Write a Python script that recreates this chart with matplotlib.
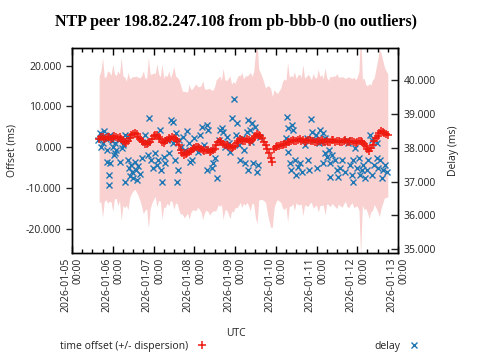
import numpy as np
import matplotlib
matplotlib.use('Agg')
import matplotlib.pyplot as plt
import matplotlib.dates as mdates
from matplotlib.ticker import FuncFormatter

plt.rcParams['font.family'] = ['Open Sans', 'DejaVu Sans']

TITLE = "NTP peer 198.82.247.108 from pb-bbb-0 (no outliers)"
START = np.datetime64('2026-01-05T00:00')
X_MIN = np.datetime64('2026-01-05T00:00')
X_MAX = np.datetime64('2026-01-13T00:00')

# time offset samples: hourly from 2026-01-05 16:00
offset_start_hour = 16
offset_step_hours = 1
offset_ms = [
    2.0, 2.6, 2.4, 1.9, 2.2, 2.5, 2.6, 2.1, 2.3, 2.7,
    2.5, 2.2, 2.4, 2.0, 1.6, 1.2, 1.0, 1.5, 2.2, 2.9,
    3.3, 3.5, 3.2, 2.6, 2.0, 1.5, 1.2, 0.8, 0.9, 1.1,
    1.4, 2.1, 2.7, 3.0, 2.9, 2.5, 2.0, 1.4, 1.1, 1.5,
    1.8, 2.2, 2.0, 2.4, 2.3, 1.9, 1.6, 0.5, -0.6, -1.3,
    -1.8, -1.6, -1.3, -1.1, -0.9, -0.5, -0.2, 0.0, 0.1, -0.2,
    -0.4, -0.7, -0.9, -0.6, -0.7, -1.1, -1.0, -0.8, -0.4, 0.6,
    1.4, 1.5, 1.2, 0.8, 0.6, 0.5, 0.3, 0.0, -0.1, 0.1,
    0.4, 1.0, 1.6, 2.0, 1.8, 1.5, 1.6, 2.0, 1.7, 1.4,
    1.8, 2.3, 2.8, 3.3, 3.1, 2.7, 2.2, 1.4, 0.5, -0.5,
    -1.5, -2.6, -3.6, -0.4, 0.0, 0.2, 0.3, 0.5, 0.6, 0.7,
    0.9, 1.2, 1.3, 1.6, 1.7, 1.5, 1.6, 1.8, 1.9, 1.6,
    1.7, 1.4, 1.5, 1.7, 1.8, 1.5, 1.6, 1.3, 1.4, 1.6,
    1.5, 1.8, 1.3, 1.4, 1.6, 1.2, 1.4, 1.7, 1.7, 1.4,
    1.5, 1.6, 1.4, 1.3, 1.6, 1.8, 1.3, 1.2, 1.5, 1.6,
    1.2, 1.0, 1.4, 1.6, 1.5, 1.3, 0.8, 0.2, -0.5, -0.9,
    -0.3, 0.5, 1.5, 2.2, 2.8, 3.5, 4.0, 3.8, 3.6, 3.2,
    2.9,
]
dispersion_ms = [
    15.5, 16.0, 19.5, 15.2, 15.0, 16.2, 15.8, 15.5, 18.0, 15.3,
    15.0, 16.5, 15.5, 20.0, 15.8, 16.0, 15.2, 16.8, 14.5, 14.2,
    14.0, 13.8, 14.2, 14.5, 15.0, 16.0, 17.5, 16.2, 16.0, 21.0,
    16.5, 15.8, 15.5, 15.0, 17.5, 15.5, 15.2, 19.0, 15.8, 16.2,
    15.5, 16.5, 15.0, 15.8, 17.5, 15.5, 15.5, 16.0, 15.8, 15.0,
    15.5, 15.2, 14.8, 16.5, 15.0, 14.8, 15.2, 15.5, 14.8, 15.0,
    15.5, 17.0, 15.2, 14.8, 15.0, 15.5, 15.0, 14.8, 15.2, 16.0,
    15.5, 16.0, 15.2, 18.5, 16.0, 15.8, 16.5, 17.5, 15.5, 16.0,
    15.2, 15.8, 16.0, 15.5, 16.5, 15.2, 15.8, 15.5, 16.0, 17.0,
    15.5, 16.2, 20.0, 22.0, 16.0, 15.5, 15.0, 14.5, 14.0, 15.5,
    16.5, 17.0, 16.0, 14.5, 13.5, 13.0, 13.5, 14.0, 15.5, 16.0,
    15.5, 19.5, 15.8, 16.0, 15.5, 17.0, 15.2, 15.8, 16.0, 15.5,
    18.5, 15.5, 15.8, 16.2, 15.5, 15.0, 16.5, 15.8, 15.5, 17.5,
    15.8, 16.0, 15.5, 18.0, 15.5, 15.2, 16.0, 15.5, 15.8, 16.0,
    16.5, 15.5, 15.8, 16.0, 15.5, 15.0, 15.8, 16.0, 15.5, 15.2,
    16.0, 15.5, 15.8, 17.0, 28.0, 15.5, 16.0, 15.2, 15.5, 16.5,
    15.5, 16.0, 15.5, 17.0, 18.5, 20.5, 19.0, 17.5, 16.0, 15.5,
    15.0,
]

# delay samples: hours since 2026-01-05 00:00 and delay in ms
delay_hours = [
    15.6, 16.2, 16.8, 17.4, 18.0, 18.6, 19.8, 20.3, 20.9, 20.9,
    21.5, 21.5, 22.1, 22.1, 23.3, 23.9, 24.5, 25.1, 25.1, 26.2,
    27.4, 28.0, 29.2, 29.8, 31.0, 31.0, 32.1, 32.7, 33.3, 33.9,
    34.5, 35.1, 35.7, 36.9, 37.4, 38.0, 38.6, 39.8, 41.0, 42.8,
    43.9, 44.5, 45.1, 46.3, 47.5, 48.7, 49.8, 50.4, 51.6, 52.2,
    52.8, 54.0, 54.5, 55.7, 56.9, 58.6, 59.2, 59.2, 60.4, 61.0,
    61.6, 62.2, 62.8, 64.0, 65.2, 66.3, 67.5, 68.7, 69.3, 70.5,
    71.6, 72.8, 74.0, 75.2, 76.4, 77.5, 79.3, 79.3, 79.9, 81.1,
    82.3, 82.8, 84.0, 85.2, 86.4, 87.0, 88.2, 88.7, 89.9, 91.1,
    92.3, 92.9, 94.1, 95.2, 96.4, 97.0, 98.2, 98.8, 100.0, 101.1,
    101.7, 102.9, 103.5, 103.5, 104.7, 105.3, 105.8, 106.4, 107.6, 108.8,
    109.4, 110.6, 125.9, 126.5, 127.1, 127.1, 128.3, 128.8, 129.4, 130.0,
    131.2, 131.8, 133.0, 134.2, 135.3, 137.1, 138.3, 138.9, 139.5, 140.6,
    141.2, 142.4, 143.6, 144.2, 145.4, 145.9, 147.1, 147.7, 147.7, 148.9,
    148.9, 150.1, 151.3, 151.8, 151.8, 153.0, 154.8, 156.0, 156.6, 157.7,
    158.9, 160.7, 161.9, 162.5, 163.7, 164.8, 165.4, 165.4, 166.6, 167.8,
    169.0, 169.5, 170.7, 171.3, 172.5, 173.7, 174.3, 175.4, 176.6, 176.6,
    177.8, 179.6, 179.6, 180.2, 181.3, 182.5, 183.1, 184.3, 185.5,
]
delay_ms = [
    38.23, 38.43, 38.02, 38.32, 38.14, 38.49, 38.26, 38.32, 37.93, 37.58,
    37.19, 36.90, 38.38, 37.55, 38.20, 38.02, 37.79, 38.14, 37.84, 37.93,
    38.23, 37.58, 37.99, 38.08, 38.38, 36.99, 38.32, 37.64, 37.40, 37.16,
    37.49, 37.28, 37.11, 37.58, 37.34, 37.05, 37.46, 37.22, 37.70, 38.38,
    38.17, 37.79, 38.88, 37.64, 37.40, 37.84, 37.49, 37.64, 38.52, 37.34,
    36.99, 37.73, 37.55, 38.23, 37.84, 38.82, 38.14, 38.76, 37.64, 38.43,
    36.99, 37.34, 38.23, 38.02, 38.32, 37.93, 38.49, 38.14, 37.58, 37.64,
    38.29, 38.02, 37.88, 38.38, 38.61, 38.08, 38.67, 37.34, 38.52, 37.93,
    37.40, 37.55, 37.70, 37.11, 38.23, 38.52, 38.58, 38.46, 38.02, 38.32,
    38.14, 37.88, 38.88, 39.44, 38.38, 38.73, 38.08, 37.64, 38.29, 37.93,
    37.55, 38.46, 38.82, 37.34, 38.52, 38.17, 38.73, 37.55, 38.61, 37.28,
    37.49, 38.32, 38.29, 38.91, 38.58, 37.88, 37.55, 37.34, 38.67, 38.52,
    37.64, 37.19, 37.43, 37.55, 37.28, 38.08, 38.29, 37.64, 37.34, 38.85,
    38.46, 38.23, 38.38, 37.40, 38.14, 38.52, 38.17, 38.43, 37.55, 38.29,
    37.84, 37.73, 37.93, 37.55, 37.14, 37.79, 37.64, 37.34, 37.14, 37.40,
    37.64, 37.28, 38.23, 38.14, 37.49, 37.19, 37.64, 36.99, 37.99, 37.40,
    37.70, 37.19, 37.34, 37.49, 37.11, 37.34, 37.64, 38.38, 38.23, 37.19,
    37.49, 37.70, 38.14, 37.40, 37.64, 37.11, 37.34, 37.49, 37.28,
]

OFFSET_LIM = (-25.9, 24.3)
DELAY_LIM = (34.89, 40.94)
offset_ticks = [-20, -10, 0, 10, 20]
delay_ticks = [35, 36, 37, 38, 39, 40]

RED = '#ee1a10'
BLUE = '#1f78b4'
BAND = '#f8d1d0'
TXT = '#222222'

offset_times = START + (offset_start_hour + offset_step_hours * np.arange(len(offset_ms))).astype('timedelta64[h]')
delay_times = START + np.round(np.array(delay_hours) * 60).astype(int).astype('timedelta64[m]')
off = np.array(offset_ms)
disp = np.array(dispersion_ms)

fig = plt.figure(figsize=(4.8, 3.6), dpi=100)
ax = fig.add_axes([72/480, 1-253/360, (398-72)/480, (253-48)/360])
ax.fill_between(offset_times, off - disp, off + disp, color=BAND, linewidth=0)
ax.set_ylim(*OFFSET_LIM)
ax.set_xlim(X_MIN, X_MAX)

ax2 = ax.twinx()
h_delay, = ax2.plot(delay_times, delay_ms, linestyle='none', marker='x', color=BLUE,
                    markersize=5, markeredgewidth=1.0)
ax2.set_ylim(*DELAY_LIM)

ax3 = ax.twinx()
h_off, = ax3.plot(offset_times, offset_ms, linestyle='none', marker='+', color=RED,
                  markersize=5.5, markeredgewidth=1.1)
ax3.set_ylim(*OFFSET_LIM)
ax3.axis('off')

fmt3 = FuncFormatter(lambda v, p: f"{v:.3f}")
ax.set_yticks(offset_ticks)
ax.yaxis.set_major_formatter(fmt3)
ax2.set_yticks(delay_ticks)
ax2.yaxis.set_major_formatter(fmt3)

ax.xaxis.set_major_locator(mdates.DayLocator())
ax.xaxis.set_minor_locator(mdates.HourLocator(byhour=[6, 12, 18]))
ax.xaxis.set_major_formatter(mdates.DateFormatter('%Y-%m-%d\n%H:%M'))

ax.tick_params(axis='y', direction='out', length=4, width=1, labelsize=7.5, colors=TXT, left=True, right=False)
ax.tick_params(axis='x', which='major', direction='in', length=5, width=1, top=True, bottom=True,
               labelsize=7.5, labelcolor=TXT)
ax.tick_params(axis='x', which='minor', direction='in', length=3, width=1, top=True, bottom=True)
ax2.tick_params(axis='y', direction='in', length=5, width=1, labelsize=7.5, colors=TXT, pad=4)
for lab in ax.get_xticklabels():
    lab.set_rotation(90)
    lab.set_ha('center')
    lab.set_va('top')
    lab.set_multialignment('right')

for a in (ax, ax2):
    for s in a.spines.values():
        s.set_linewidth(1.0)
        s.set_color('black')

ax.set_ylabel('Offset (ms)', fontsize=7.5, color=TXT, labelpad=6)
ax2.set_ylabel('Delay (ms)', fontsize=7.5, color=TXT, labelpad=9)
fig.text(236/480, 1-333/360, 'UTC', ha='center', va='center', fontsize=7.5, color=TXT)
fig.suptitle(TITLE, x=236/480, y=1-22/360, va='center', fontsize=11.5, fontweight='bold',
             family='Liberation Serif')

fig.legend([h_off], ['time offset (+/- dispersion)'], loc='center left',
           bbox_to_anchor=(60/480, 14/360), frameon=False, markerfirst=False,
           borderpad=0, borderaxespad=0, handlelength=1.5, handletextpad=0.6,
           fontsize=7.5, labelcolor=TXT)
fig.legend([h_delay], ['delay'], loc='center left',
           bbox_to_anchor=(374/480, 14/360), frameon=False, markerfirst=False,
           borderpad=0, borderaxespad=0, handlelength=1.5, handletextpad=0.6,
           fontsize=7.5, labelcolor=TXT)

fig.savefig('out.png', dpi=100)
